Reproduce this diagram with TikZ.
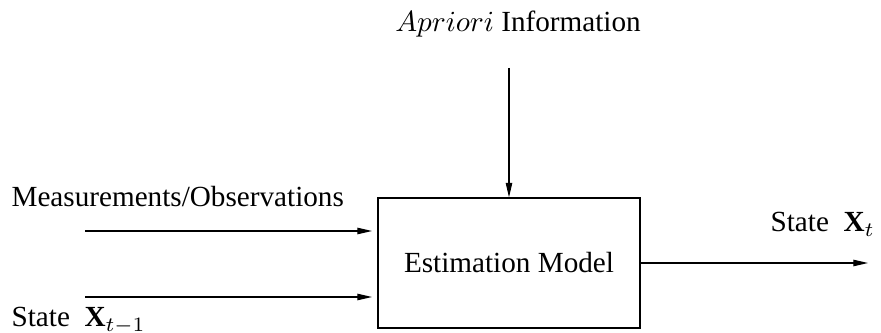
\documentclass[tikz,border=0pt]{standalone}
\usepackage{fontspec}
\setmainfont{Liberation Serif}
\usepackage{amsmath}
\usetikzlibrary{arrows.meta}
\begin{document}
\begin{tikzpicture}[x=0.3426pt,y=-0.3426pt,flow/.style={-{Triangle[length=5pt,width=2.2pt]}},txt/.style={inner sep=0pt}]
\useasboundingbox (0,0) rectangle (881,333);
\node[draw,minimum width=262*0.3426pt,minimum height=130*0.3426pt](model)at(509,263){Estimation Model};
\node[txt](apr)at(518,24){$Apriori$ Information};
\node[txt,anchor=base west](meas)at(11,207){Measurements/Observations};
\node[txt,anchor=base west](sprev)at(11,327){State~~$\mathbf{X}_{t-1}$};
\node[txt,anchor=base west](snext)at(770,232){State~~$\mathbf{X}_{t}$};
\coordinate(atop)at(509,68);
\coordinate(m1)at(85,231);\coordinate(m2)at(372,231);
\coordinate(s1)at(85,297);\coordinate(s2)at(372,297);
\coordinate(out)at(868,263);
\draw[flow](atop)--(model.north);
\draw[flow](m1)--(m2);
\draw[flow](s1)--(s2);
\draw[flow](model.east)--(out);
\end{tikzpicture}
\end{document}
